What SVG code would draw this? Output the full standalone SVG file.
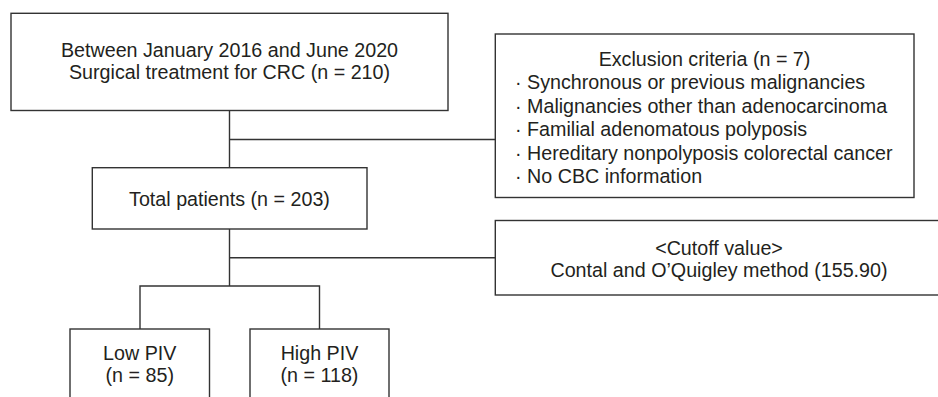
<svg xmlns="http://www.w3.org/2000/svg" width="938" height="397" viewBox="0 0 938 397">
<style>
.box{fill:#fff;stroke:#333;stroke-width:1.4}
.ln{fill:none;stroke:#333;stroke-width:1.4}
text{font-family:"Liberation Sans",Arial,sans-serif;font-size:19.7px;fill:#231f20}
.c{text-anchor:middle}
</style>
<rect width="938" height="397" fill="#fff"/>
<g id="connectors">
<path class="ln" d="M229.5 110.5V167.7M229.5 139.5H495.3M229.5 229V286M229.5 257.7H495.3M140 329V286H319.5V329"/>
</g>
<g id="n1">
<rect class="box" x="11" y="13.3" width="437" height="97.2"/>
<text class="c" x="229.5" y="57">Between January 2016 and June 2020</text>
<text class="c" x="229.5" y="78.5">Surgical treatment for CRC (n = 210)</text>
</g>
<g id="exclusion">
<rect class="box" x="495.3" y="34" width="418.7" height="163.5"/>
<text class="c" x="704.5" y="66">Exclusion criteria (n = 7)</text>
<text x="515" y="89">· Synchronous or previous malignancies</text>
<text x="515" y="112.5">· Malignancies other than adenocarcinoma</text>
<text x="515" y="136">· Familial adenomatous polyposis</text>
<text x="515" y="159.5">· Hereditary nonpolyposis colorectal cancer</text>
<text x="515" y="183">· No CBC information</text>
</g>
<g id="total">
<rect class="box" x="92.3" y="167.7" width="274.7" height="61.3"/>
<text class="c" x="229.5" y="205.5">Total patients (n = 203)</text>
</g>
<g id="cutoff">
<rect class="box" x="495.3" y="220.5" width="450" height="74.5"/>
<text class="c" x="719" y="255">&lt;Cutoff value&gt;</text>
<text class="c" x="719" y="276.5">Contal and O’Quigley method (155.90)</text>
</g>
<g id="low">
<rect class="box" x="70" y="329" width="139.5" height="80"/>
<text class="c" x="139.75" y="360">Low PIV</text>
<text class="c" x="139.75" y="382">(n = 85)</text>
</g>
<g id="high">
<rect class="box" x="250" y="329" width="139" height="80"/>
<text class="c" x="319.5" y="360">High PIV</text>
<text class="c" x="319.5" y="382">(n = 118)</text>
</g>
</svg>
